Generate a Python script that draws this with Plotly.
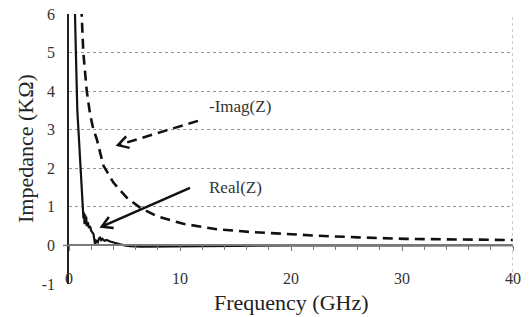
import numpy as np
import plotly.graph_objects as go

# ---- data ----
real_freq = [0.30, 0.45, 0.54, 0.62, 0.69, 0.75, 0.85, 1.05, 1.15, 1.23, 1.30, 1.35, 1.40, 1.45,
             1.50, 1.55, 1.60, 1.70, 1.80, 1.90, 2.00, 2.20, 2.30, 2.35, 2.45, 2.60, 2.70, 2.80,
             2.90, 3.00, 3.20, 3.40, 3.70, 4.00, 4.30, 4.60, 5.00, 5.50, 6.50, 8.00, 10.0, 12.0,
             15.0, 20.0, 30.0, 40.0]
real_vals = [14.0, 8.0, 6.0, 5.0, 4.0, 3.5, 3.0, 2.0, 1.4, 1.0, 0.70, 0.85, 0.55, 0.80,
             0.60, 0.75, 0.50, 0.60, 0.45, 0.50, 0.38, 0.30, 0.10, 0.02, 0.12, 0.08, 0.18, 0.20,
             0.14, 0.17, 0.12, 0.14, 0.10, 0.07, 0.05, 0.03, 0.00, -0.02, -0.03, -0.03, -0.03, -0.02,
             -0.01, 0.00, 0.00, 0.01]

imag_freq = [1.00, 1.14, 1.29, 1.60, 1.90, 2.20, 2.50, 3.10, 4.00, 5.20, 6.40, 7.90, 10.3,
             13.3, 16.3, 19.3, 22.5, 26.0, 30.3, 35.0, 40.0]
imag_vals = [6.6, 6.0, 5.0, 4.0, 3.4, 3.0, 2.76, 2.07, 1.63, 1.24, 0.98, 0.76, 0.56,
             0.42, 0.35, 0.30, 0.25, 0.21, 0.17, 0.155, 0.14]

x_ticks = [0, 10, 20, 30, 40]
x_tick_labels = ["0", "10", "20", "30", "40"]
y_ticks = [-1, 0, 1, 2, 3, 4, 5, 6]
y_tick_labels = ["-1", "0", "1", "2", "3", "4", "5", "6"]

# annotation geometry (data units)
imag_arrow = dict(x0=11.62, y0=3.23, x1=4.41, y1=2.60)
real_arrow = dict(x0=10.9, y0=1.49, x1=2.95, y1=0.485)
labels = [("-Imag(Z)", 12.4, 3.59), ("Real(Z)", 12.4, 1.51)]

X_RANGE = [0, 40]
Y_RANGE = [-1, 6]
W, H = 532, 317
M = dict(l=69, r=19, t=14, b=33)
px_x = (W - M["l"] - M["r"]) / (X_RANGE[1] - X_RANGE[0])
px_y = (H - M["t"] - M["b"]) / (Y_RANGE[1] - Y_RANGE[0])

FONT = "Times New Roman, Liberation Serif, DejaVu Serif, serif"

fig = go.Figure()
fig.add_trace(go.Scatter(x=imag_freq, y=imag_vals, mode="lines", name="-Imag(Z)",
                         line=dict(color="#111111", width=2.6, dash="10px,6px")))
fig.add_trace(go.Scatter(x=real_freq, y=real_vals, mode="lines", name="Real(Z)",
                         line=dict(color="#111111", width=2.2)))

shapes = []
# right border (dotted)
shapes.append(dict(type="line", xref="x", yref="y", x0=40, x1=40, y0=-1, y1=6,
                   line=dict(color="#8c94a8", width=1, dash="dot")))
# short extension of the zero line left of the value axis
shapes.append(dict(type="line", xref="paper", yref="y", x0=-6 / (W - M["l"] - M["r"]), x1=0,
                   y0=0, y1=0, line=dict(color="#7a7a7a", width=1.5)))


def arrow(a, dash):
    shapes.append(dict(type="line", xref="x", yref="y", x0=a["x0"], y0=a["y0"],
                       x1=a["x1"], y1=a["y1"],
                       line=dict(color="#111111", width=2.5, dash=dash)))
    # chevron head computed in pixel space
    dx = (a["x0"] - a["x1"]) * px_x
    dy = -(a["y0"] - a["y1"]) * px_y
    n = np.hypot(dx, dy)
    ux, uy = dx / n, dy / n
    L = 12
    pts = []
    for ang in (np.radians(30), -np.radians(30)):
        rx = ux * np.cos(ang) - uy * np.sin(ang)
        ry = ux * np.sin(ang) + uy * np.cos(ang)
        pts.append((a["x1"] + rx * L / px_x, a["y1"] - ry * L / px_y))
    path = "M {:.4f},{:.4f} L {:.4f},{:.4f} L {:.4f},{:.4f}".format(
        pts[0][0], pts[0][1], a["x1"], a["y1"], pts[1][0], pts[1][1])
    shapes.append(dict(type="path", xref="x", yref="y", path=path,
                       line=dict(color="#111111", width=2.5)))


arrow(imag_arrow, "10px,6px")
arrow(real_arrow, "solid")

annotations = [dict(text=t, x=x, y=y, xref="x", yref="y", showarrow=False,
                    xanchor="left", yanchor="middle",
                    font=dict(family=FONT, size=17, color="#333333"))
               for t, x, y in labels]
# axis titles
annotations.append(dict(text="Frequency (GHz)", xref="paper", yref="paper",
                        x=0.5, y=-(302 - (H - M["b"])) / (H - M["t"] - M["b"]),
                        xanchor="center", yanchor="middle", showarrow=False,
                        font=dict(family=FONT, size=22, color="#222222")))
annotations.append(dict(text="Impedance (KΩ)", xref="paper", yref="paper",
                        x=-(M["l"] - 25) / (W - M["l"] - M["r"]), y=0.5, textangle=-90,
                        xanchor="center", yanchor="middle", showarrow=False,
                        font=dict(family=FONT, size=22, color="#222222")))

fig.update_layout(
    width=W, height=H,
    margin=M,
    paper_bgcolor="white", plot_bgcolor="white",
    showlegend=False,
    font=dict(family=FONT, color="#333333", size=15),
    shapes=shapes,
    annotations=annotations,
    xaxis=dict(range=X_RANGE, tickvals=x_ticks, ticktext=x_tick_labels,
               showgrid=False, zeroline=False,
               showline=True, linecolor="#7a7a7a", linewidth=1.5, automargin=False,
               anchor="free", position=(0 - Y_RANGE[0]) / (Y_RANGE[1] - Y_RANGE[0]),
               ticks="outside", ticklen=5, tickcolor="#7a7a7a", tickwidth=1,
               minor=dict(dtick=2, ticks="outside", ticklen=4, tickcolor="#7a7a7a"),
               ticklabelstandoff=14,
               tickfont=dict(family=FONT, size=16, color="#333333")),
    yaxis=dict(range=Y_RANGE, tickvals=y_ticks, ticktext=y_tick_labels,
               showgrid=True, gridcolor="#8c94a8",
               griddash="dot", gridwidth=1, zeroline=False, automargin=False,
               showline=True, linecolor="#222222", linewidth=1.5, ticks="",
               ticklabelstandoff=9,
               tickfont=dict(family=FONT, size=16, color="#333333")),
)

fig.write_html("out.html", post_script="document.body.style.margin='0';",
               config={"displayModeBar": False})
